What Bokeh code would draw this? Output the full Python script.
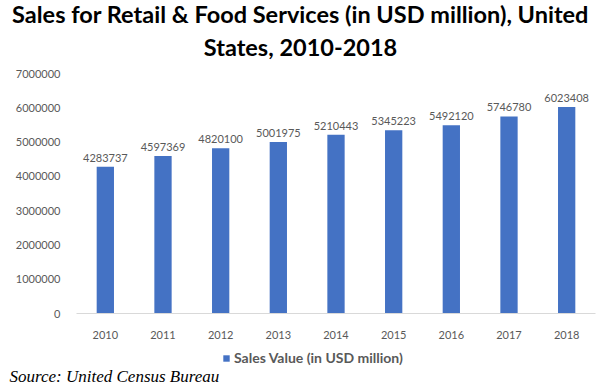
from bokeh.plotting import figure
from bokeh.layouts import column
from bokeh.models import ColumnDataSource, FactorRange, Range1d, Legend, LegendItem, FixedTicker, Label
from bokeh.core.properties import value
from bokeh.embed import file_html
from bokeh.resources import INLINE

years = ["2010", "2011", "2012", "2013", "2014", "2015", "2016", "2017", "2018"]
sales = [4283737, 4597369, 4820100, 5001975, 5210443, 5345223, 5492120, 5746780, 6023408]
y_ticks = [0, 1000000, 2000000, 3000000, 4000000, 5000000, 6000000, 7000000]
series_name = "Sales Value (in USD million)"
title_1 = "Sales for Retail & Food Services (in USD million), United"
title_2 = "States, 2010-2018"
source_note = "Source: United Census Bureau"

BAR = "#4472C4"
GRAY = "#595959"


def strip(h, x_range=None):
    f = figure(width=600, height=h, output_backend="svg", toolbar_location=None,
               x_range=x_range if x_range is not None else Range1d(0, 600), y_range=Range1d(0, h),
               x_axis_type=None, y_axis_type=None, title=None, min_border=0)
    f.outline_line_color = None
    f.xgrid.grid_line_color = None
    f.ygrid.grid_line_color = None
    f.frame_align = False
    return f


src = ColumnDataSource(dict(year=years, sales=sales, label=[str(v) for v in sales]))

# title strip
p0 = strip(65)
p0.add_layout(Label(x=300, y=65 - 13, x_units="screen", y_units="screen", text=title_1,
                    text_align="center", text_baseline="middle", text_font="Lato",
                    text_font_size="23.5px", text_font_style="bold", text_color="#000000"))
p0.add_layout(Label(x=300, y=65 - 46, x_units="screen", y_units="screen", text=title_2,
                    text_align="center", text_baseline="middle", text_font="Lato",
                    text_font_size="23.5px", text_font_style="bold", text_color="#000000"))

# main chart
p = figure(width=600, height=276, output_backend="svg", toolbar_location=None,
           x_range=FactorRange(*years, range_padding=0), y_range=Range1d(0, 7000000),
           title=None, min_border_left=76, min_border_right=5,
           min_border_top=8, min_border_bottom=28)
p.frame_align = False
p.outline_line_color = None

bars = p.vbar(x="year", top="sales", width=0.30, source=src, color=BAR, line_color=None)
p.text(x="year", y="sales", text="label", source=src, text_align="center", text_baseline="alphabetic",
       y_offset=-9, text_font=value("Lato"), text_font_size="11px", text_color=GRAY)

p.xgrid.grid_line_color = None
p.ygrid.grid_line_color = None

p.yaxis.ticker = FixedTicker(ticks=y_ticks)
p.yaxis.axis_line_color = None
p.yaxis.major_tick_line_color = None
p.yaxis.minor_tick_line_color = None
p.yaxis.major_label_text_font = "Lato"
p.yaxis.major_label_text_font_size = "11px"
p.yaxis.major_label_text_color = GRAY
p.yaxis.major_label_standoff = 10
p.yaxis[0].formatter.use_scientific = False

p.xaxis.axis_line_color = "#D9D9D9"
p.xaxis.major_tick_line_color = None
p.xaxis.minor_tick_line_color = None
p.xaxis.major_label_text_font = "Lato"
p.xaxis.major_label_text_font_size = "11px"
p.xaxis.major_label_text_color = GRAY
p.xaxis.major_label_standoff = 11

# lower strip: legend and source note
p2 = strip(48, x_range=FactorRange(*years))
key = p2.vbar(x="year", top="sales", width=0.3, source=src, color=BAR, line_color=None, visible=False)

legend = Legend(items=[LegendItem(label=series_name, renderers=[key])], orientation="horizontal",
                location=(222, 23), border_line_color=None, background_fill_alpha=0,
                inactive_fill_alpha=0,
                label_text_font="Lato", label_text_font_size="14px", label_text_color=GRAY,
                label_text_font_style="bold", glyph_width=8, glyph_height=8, label_standoff=4,
                padding=2, margin=0, label_height=14)
p2.add_layout(legend)

p2.add_layout(Label(x=9, y=13, x_units="screen", y_units="screen", text=source_note,
                    text_font="Liberation Serif", text_font_size="17px", text_font_style="italic",
                    text_color="#000000", text_baseline="middle", text_align="left"))

layout = column(p0, p, p2, spacing=0)
open("out.html", "w").write(file_html(layout, INLINE))
